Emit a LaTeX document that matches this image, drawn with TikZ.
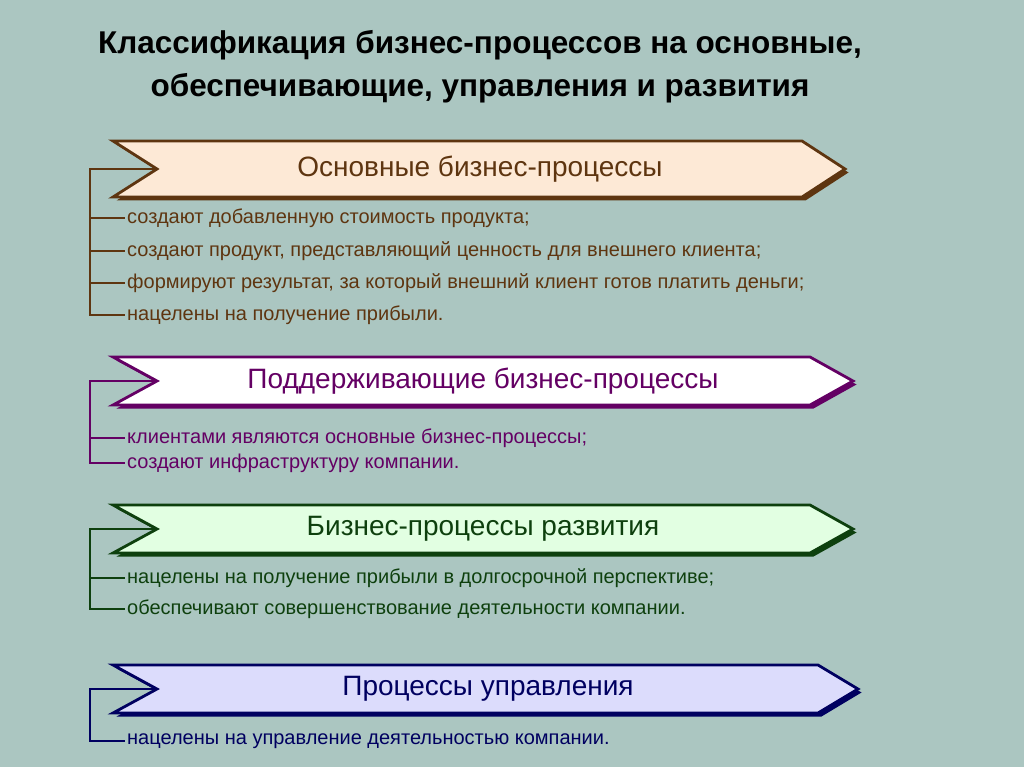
\documentclass[tikz,border=0pt]{standalone}
\usepackage{fontspec}
\setmainfont{Liberation Sans}
\usepackage{tikz}
\usetikzlibrary{positioning,calc}

\definecolor{bgteal}{HTML}{ABC6C1}
\definecolor{brownline}{HTML}{5E3510}
\definecolor{brownfill}{HTML}{FDE9D6}
\definecolor{purpleline}{HTML}{640064}
\definecolor{greenline}{HTML}{0E400E}
\definecolor{greenfill}{HTML}{E2FFE2}
\definecolor{navyline}{HTML}{000060}
\definecolor{navyfill}{HTML}{DCDCFC}

% banner: #1 top, #2 bottom, #3 right corner, #4 tip, #5 fill, #6 line, #7 name
\newcommand{\bannershape}[7]{
  \fill[#6] ($(113,#1)+(3.5,3.5)$) -- ($(#3,#1)+(3.5,3.5)$) -- ($(#4,{(#1+#2)/2})+(3.5,3.5)$)
    -- ($(#3,#2)+(3.5,3.5)$) -- ($(113,#2)+(3.5,3.5)$) -- ($(157,{(#1+#2)/2})+(3.5,3.5)$) -- cycle;
  \draw[#6, line width=2.8pt, fill=#5, line join=miter] (113,#1) -- (#3,#1) -- (#4,{(#1+#2)/2})
    -- (#3,#2) -- (113,#2) -- (157,{(#1+#2)/2}) -- cycle;
  \coordinate (#7) at (157,{(#1+#2)/2});
}

\begin{document}
\begin{tikzpicture}[x=1pt,y=-1pt,
    titletext/.style={font=\bfseries\fontsize{31.5}{43}\selectfont, align=center},
    headtext/.style={font=\fontsize{28}{30}\selectfont, anchor=center},
    itemtext/.style={font=\fontsize{20}{22}\selectfont, anchor=west, inner sep=2pt},
    bracket/.style={line width=2.8pt},
  ]
  \fill[bgteal] (0,0) rectangle (1024,767);
  \useasboundingbox (0,0) rectangle (1024,767);
  \coordinate (brk) at (90,0);

  %Title
  \node[titletext] (title) at (480,67) {Классификация бизнес-процессов на основные,\\обеспечивающие, управления и развития};

  %Banners
  \bannershape{141}{197}{802}{845}{brownfill}{brownline}{mainnotch}
  \bannershape{357}{405}{810}{853}{white}{purpleline}{supnotch}
  \bannershape{505}{553}{810}{853}{greenfill}{greenline}{devnotch}
  \bannershape{665}{713}{818}{858}{navyfill}{navyline}{mgmtnotch}

  %Nodes
  \node[headtext, text=brownline]  (mainhead) at (480,169) {Основные бизнес-процессы};
  \node[headtext, text=purpleline] (suphead)  at (483,381) {Поддерживающие бизнес-процессы};
  \node[headtext, text=greenline]  (devhead)  at (483,529) {Бизнес-процессы развития};
  \node[headtext, text=navyline]   (mgmthead) at (488,689) {Процессы управления};

  \node[itemtext, text=brownline] (maina) at (125,218) {создают добавленную стоимость продукта;};
  \node[itemtext, text=brownline] (mainb) at (125,251) {создают продукт, представляющий ценность для внешнего клиента;};
  \node[itemtext, text=brownline] (mainc) at (125,283) {формируют результат, за который внешний клиент готов платить деньги;};
  \node[itemtext, text=brownline] (maind) at (125,315) {нацелены на получение прибыли.};

  \node[itemtext, text=purpleline] (supa) at (125,438) {клиентами являются основные бизнес-процессы;};
  \node[itemtext, text=purpleline] (supb) at (125,463) {создают инфраструктуру компании.};

  \node[itemtext, text=greenline] (deva) at (125,578) {нацелены на получение прибыли в долгосрочной перспективе;};
  \node[itemtext, text=greenline] (devb) at (125,609) {обеспечивают совершенствование деятельности компании.};

  \node[itemtext, text=navyline] (mgmta) at (125,741) {нацелены на управление деятельностью компании.};

  %Lines
  \draw[bracket, brownline] (mainnotch) -| (brk |- maind.west) -- (maind.west);
  \draw[bracket, brownline] (brk |- maina.west) -- (maina.west);
  \draw[bracket, brownline] (brk |- mainb.west) -- (mainb.west);
  \draw[bracket, brownline] (brk |- mainc.west) -- (mainc.west);

  \draw[bracket, purpleline] (supnotch) -| (brk |- supb.west) -- (supb.west);
  \draw[bracket, purpleline] (brk |- supa.west) -- (supa.west);

  \draw[bracket, greenline] (devnotch) -| (brk |- devb.west) -- (devb.west);
  \draw[bracket, greenline] (brk |- deva.west) -- (deva.west);

  \draw[bracket, navyline] (mgmtnotch) -| (brk |- mgmta.west) -- (mgmta.west);
\end{tikzpicture}
\end{document}
